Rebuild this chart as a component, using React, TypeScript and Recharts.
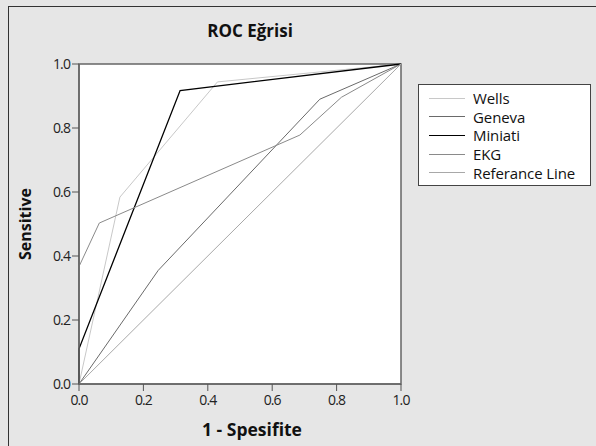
import React from "react";
import { LineChart, Line, XAxis, YAxis, ReferenceArea, Label } from "recharts";

// ROC noktaları (1 - Spesifite, Sensitive)
const wellsFpr = [0, 0.127, 0.43, 1];
const wellsTpr = [0, 0.584, 0.944, 1];
const genevaFpr = [0, 0.246, 0.748, 1];
const genevaTpr = [0, 0.355, 0.89, 1];
const miniatiFpr = [0, 0, 0.314, 1];
const miniatiTpr = [0, 0.11, 0.917, 1];
const ekgFpr = [0, 0.063, 0.686, 0.815, 1];
const ekgTpr = [0.367, 0.503, 0.778, 0.896, 1];
const refFpr = [0, 1];
const refTpr = [0, 1];

const ticks = [0, 0.2, 0.4, 0.6, 0.8, 1];

const toPoints = (xs: number[], ys: number[]) => xs.map((x, i) => ({ x, y: ys[i] }));

const series = [
  { name: "Wells", data: toPoints(wellsFpr, wellsTpr), color: "#c8c8c8", width: 1 },
  { name: "Geneva", data: toPoints(genevaFpr, genevaTpr), color: "#6a6a6a", width: 1 },
  { name: "Miniati", data: toPoints(miniatiFpr, miniatiTpr), color: "#000000", width: 1.3 },
  { name: "EKG", data: toPoints(ekgFpr, ekgTpr), color: "#8a8a8a", width: 1 },
  { name: "Referance Line", data: toPoints(refFpr, refTpr), color: "#a8a8a8", width: 1 },
];

const FONT = "'Open Sans', 'Noto Sans', sans-serif";

const LegendBox = () => (
  <div
    style={{
      position: "absolute",
      left: 418,
      top: 84,
      width: 173,
      height: 102,
      border: "1px solid #444",
      background: "#fff",
      boxSizing: "border-box",
      paddingTop: 4,
      fontFamily: FONT,
      fontSize: 15,
      lineHeight: "18px",
      color: "#111",
    }}
  >
    {series.map((s) => (
      <div key={s.name} style={{ display: "flex", alignItems: "center", height: 18.6 }}>
        <div style={{ marginLeft: 10, width: 36, height: 0, borderTop: `${s.width}px solid ${s.color}` }} />
        <span style={{ marginLeft: 8, letterSpacing: -0.1, lineHeight: "18px" }}>{s.name}</span>
      </div>
    ))}
  </div>
);

const App = () => {
  return (
    <div style={{ position: "fixed", left: 0, top: 0, width: 596, height: 446, background: "#e6e6e6", overflow: "hidden" }}>
      <div style={{ position: "absolute", left: 8, top: 6, width: 700, height: 600, borderLeft: "1px solid #333", borderTop: "1px solid #333" }} />
      <div
        style={{
          position: "absolute",
          left: 150,
          width: 200,
          top: 19,
          textAlign: "center",
          fontFamily: FONT,
          fontWeight: "bold",
          fontSize: 17,
          color: "#111",
        }}
      >
        ROC Eğrisi
      </div>
      <div style={{ position: "absolute", left: 0, top: 0 }}>
        <LineChart width={596} height={446} margin={{ top: 64, right: 195, bottom: 32, left: 39 }}>
          <ReferenceArea x1={0} x2={1} y1={0} y2={1} fill="#ffffff" fillOpacity={1} stroke="#666" strokeWidth={1.5} />
          <XAxis
            type="number"
            dataKey="x"
            domain={[0, 1]}
            ticks={ticks}
            tickFormatter={(v: number) => v.toFixed(1)}
            height={30}
            tickSize={7}
            tickMargin={4}
            axisLine={{ stroke: "#666", strokeWidth: 1.5 }}
            tickLine={{ stroke: "#555" }}
            tick={{ fill: "#222", fontSize: 14, fontFamily: FONT, letterSpacing: -0.9 }}
            allowDuplicatedCategory={false}
          >
            <Label value="1 - Spesifite" position="insideBottom" offset={-22} dx={12} style={{ fontFamily: FONT, fontWeight: "bold", fontSize: 17.5, fill: "#111" }} />
          </XAxis>
          <YAxis
            type="number"
            dataKey="y"
            domain={[0, 1]}
            ticks={ticks}
            tickFormatter={(v: number) => v.toFixed(1)}
            width={40}
            tickSize={7}
            tickMargin={2}
            axisLine={{ stroke: "#666", strokeWidth: 1.5 }}
            tickLine={{ stroke: "#555" }}
            tick={{ fill: "#222", fontSize: 14, fontFamily: FONT, letterSpacing: -0.9 }}
          >
            <Label value="Sensitive" angle={-90} position="insideLeft" offset={-14} style={{ fontFamily: FONT, fontWeight: "bold", fontSize: 16, fill: "#111", textAnchor: "middle" }} />
          </YAxis>
          {series.map((s) => (
            <Line
              key={s.name}
              data={s.data}
              dataKey="y"
              name={s.name}
              type="linear"
              stroke={s.color}
              strokeWidth={s.width}
              dot={false}
              activeDot={false}
              isAnimationActive={false}
            />
          ))}
        </LineChart>
      </div>
      <LegendBox />
    </div>
  );
};

export default App;
